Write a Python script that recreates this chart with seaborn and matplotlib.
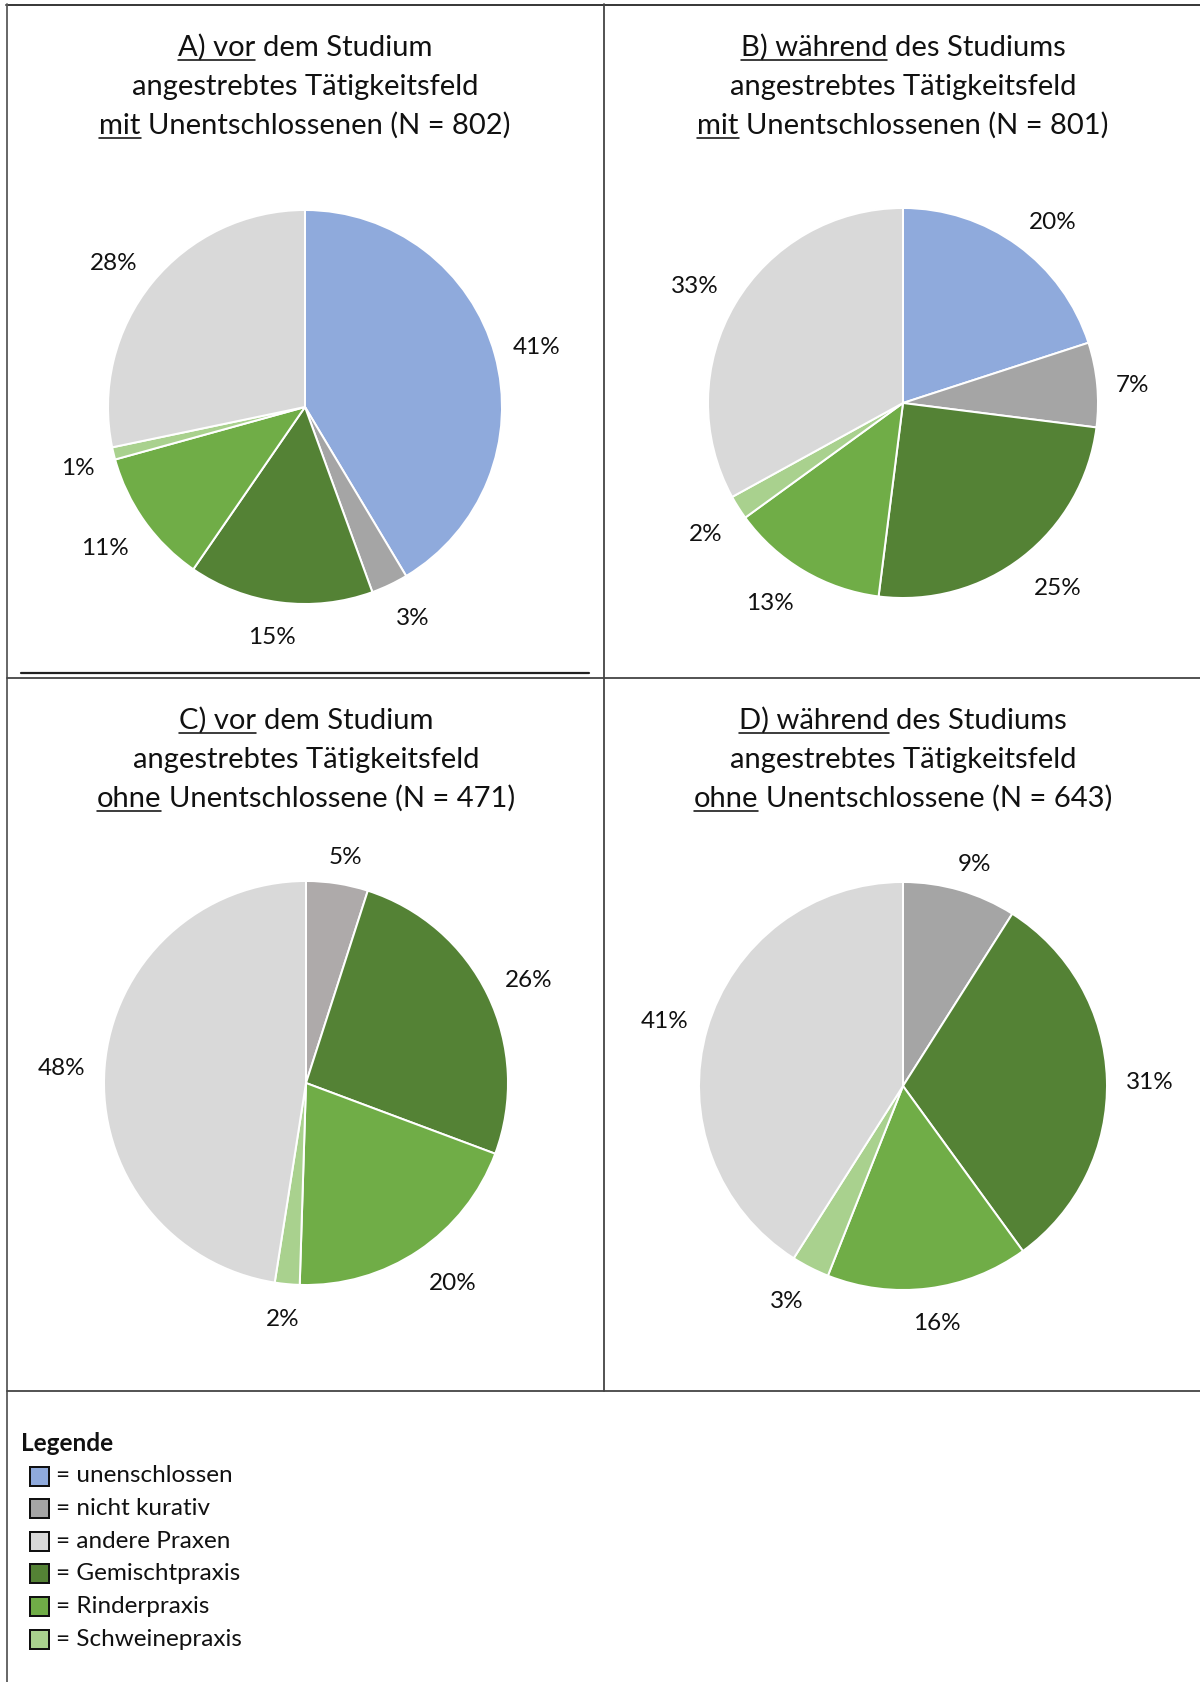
import numpy as np
import matplotlib.pyplot as plt
import seaborn as sns

sns.set_style("white")
plt.rcParams["font.family"] = ["Lato", "DejaVu Sans"]

# Data
categories = ["unenschlossen", "nicht kurativ", "Gemischtpraxis",
              "Rinderpraxis", "Schweinepraxis", "andere Praxen"]
vals_a = [41, 3, 15, 11, 1, 28]
vals_b = [20, 7, 25, 13, 2, 33]
vals_c = [0, 5, 26, 20, 2, 48]
vals_d = [0, 9, 31, 16, 3, 41]
legend_order = ["unenschlossen", "nicht kurativ", "andere Praxen",
                "Gemischtpraxis", "Rinderpraxis", "Schweinepraxis"]

colors = dict(zip(categories, ["#8FAADC", "#A5A5A5", "#548235",
                               "#70AD47", "#A9D18E", "#D9D9D9"]))

titles_a = [[("A) vor", True), ("dem Studium", False)],
            [("angestrebtes Tätigkeitsfeld", False)],
            [("mit", True), ("Unentschlossenen (N = 802)", False)]]
titles_b = [[("B) während", True), ("des Studiums", False)],
            [("angestrebtes Tätigkeitsfeld", False)],
            [("mit", True), ("Unentschlossenen (N = 801)", False)]]
titles_c = [[("C) vor", True), ("dem Studium", False)],
            [("angestrebtes Tätigkeitsfeld", False)],
            [("ohne", True), ("Unentschlossene (N = 471)", False)]]
titles_d = [[("D) während", True), ("des Studiums", False)],
            [("angestrebtes Tätigkeitsfeld", False)],
            [("ohne", True), ("Unentschlossene (N = 643)", False)]]

W, H = 1200, 1682
PT = 72 / 100
fig = plt.figure(figsize=(W / 100, H / 100), dpi=100)
bg = fig.add_axes([0, 0, 1, 1])
bg.set_xlim(0, W)
bg.set_ylim(H, 0)
bg.axis("off")
renderer = fig.canvas.get_renderer()

#Table lines
lc = "#444444"
lw = 1.8 * PT
bg.plot([6, W], [4.5, 4.5], color="#262626", lw=lw)
bg.plot([7, 7], [4, H], color="#5a5a5a", lw=lw)
bg.plot([604, 604], [4, 1391], color=lc, lw=lw)
bg.plot([7, W], [677.5, 677.5], color=lc, lw=lw)
bg.plot([21, 589], [673, 673], color="#222222", lw=2.2 * PT)
bg.plot([7, W], [1391, 1391], color=lc, lw=lw)

TS = 21
LS = 17.5
space_w = (bg.text(0, 0, "x x", fontsize=TS).get_window_extent(renderer).width
           - bg.text(0, 0, "xx", fontsize=TS).get_window_extent(renderer).width)
for t in list(bg.texts):
    t.remove()


def title_line(xc, y, parts):
    texts = [bg.text(0, y, s, fontsize=TS, ha="left", va="baseline", color="#111111")
             for s, _ in parts]
    widths = [t.get_window_extent(renderer).width for t in texts]
    total = sum(widths) + space_w * (len(parts) - 1)
    x = xc - total / 2
    for t, w, (s, ul) in zip(texts, widths, parts):
        t.set_x(x)
        if ul:
            bg.plot([x, x + w], [y + 4, y + 4], color="#111111", lw=1.6 * PT)
        x += w + space_w


def pie(cx, cy, r, vals, title, tx, ty):
    for i, parts in enumerate(title):
        title_line(tx, ty + i * 39, parts)
    side = 2.6 * r
    ax = fig.add_axes([(cx - side / 2) / W, 1 - (cy + side / 2) / H, side / W, side / H])
    data = [(c, v) for c, v in zip(categories, vals) if v > 0]
    wedges, _ = ax.pie([v for _, v in data], colors=[colors[c] for c, _ in data],
                       startangle=90, counterclock=False, radius=1,
                       wedgeprops=dict(edgecolor="white", linewidth=2 * PT))
    # labels outside the edge, box pushed away from the pie like Excel does
    gap = 19 / r
    for w, (c, v) in zip(wedges, data):
        ang = np.deg2rad((w.theta1 + w.theta2) / 2)
        t = ax.text(0, 0, f"{v}%", fontsize=LS, ha="center", va="center_baseline",
                    color="#111111")
        bb = t.get_window_extent(renderer)
        hw, hh = bb.width / 2 / r, 12 / r
        kx = np.clip(2 * np.cos(ang), -1, 1)
        ky = np.clip(2 * np.sin(ang), -1, 1)
        t.set_position(((1 + gap) * np.cos(ang) + hw * kx,
                        (1 + gap) * np.sin(ang) + hh * ky - 2.5 / r))
    ax.set_xlim(-1.3, 1.3)
    ax.set_ylim(-1.3, 1.3)
    ax.set_aspect("equal")
    ax.axis("off")
    return ax


pie(305, 407, 197, vals_a, titles_a, 305, 56)
pie(903, 403, 195, vals_b, titles_b, 903, 56)
ax_c = pie(306, 1083, 202, vals_c, titles_c, 306, 729)
ax_c.patches[0].set_facecolor("#AEAAAA")
pie(903, 1086, 204, vals_d, titles_d, 903, 729)

#Legend
bg.text(21, 1443.5, "Legende", fontsize=LS, fontweight="bold", va="center", color="#111111")
rows_y = [1476, 1508.5, 1541, 1573.5, 1606.5, 1639]
for name, y in zip(legend_order, rows_y):
    bg.add_patch(plt.Rectangle((29.5, y - 9.5), 19, 19, facecolor=colors[name],
                               edgecolor="#111111", lw=2 * PT))
    bg.text(56, y, "= " + name, fontsize=LS, va="center", color="#111111")

plt.savefig("out.png", dpi=100)
